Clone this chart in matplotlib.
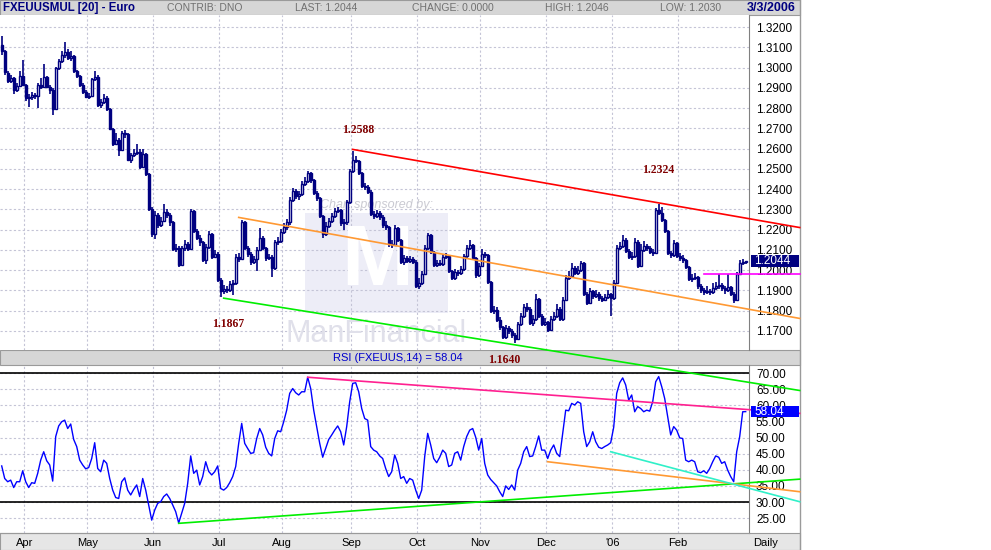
import numpy as np
import pandas as pd
import matplotlib
matplotlib.use('Agg')
import matplotlib.pyplot as plt
import matplotlib.transforms as mtransforms
from matplotlib.patches import Rectangle
from matplotlib.lines import Line2D
from matplotlib.ticker import FormatStrFormatter

plt.rcParams['font.family'] = 'Liberation Sans'

# daily EUR/USD bars, 22 Mar 2005 .. 3 Mar 2006
opens = [
    1.3110, 1.3080, 1.2975, 1.2935, 1.2950, 1.2890, 1.2910, 1.2960, 1.2915, 1.2850,
    1.2855, 1.2865, 1.2860, 1.2915, 1.2905, 1.2955, 1.2905, 1.2890, 1.2795, 1.3000,
    1.3035, 1.3060, 1.3075, 1.3050, 1.3055, 1.2985, 1.2960, 1.2915, 1.2880, 1.2855,
    1.2860, 1.2945, 1.2955, 1.2815, 1.2830, 1.2850, 1.2795, 1.2695, 1.2625, 1.2640,
    1.2595, 1.2675, 1.2670, 1.2545, 1.2570, 1.2580, 1.2585, 1.2510, 1.2575, 1.2475,
    1.2300, 1.2180, 1.2270, 1.2225, 1.2240, 1.2285, 1.2270, 1.2235, 1.2105, 1.2110,
    1.2025, 1.2110, 1.2130, 1.2105, 1.2290, 1.2195, 1.2160, 1.2140, 1.2050, 1.2115,
    1.2180, 1.2065, 1.2080, 1.1950, 1.1895, 1.1905, 1.1900, 1.1930, 1.1935, 1.2065,
    1.2055, 1.2235, 1.2110, 1.2080, 1.2040, 1.2055, 1.2100, 1.2160, 1.2110, 1.2060,
    1.2065, 1.2010, 1.2140, 1.2145, 1.2190, 1.2215, 1.2235, 1.2345, 1.2390, 1.2365,
    1.2375, 1.2425, 1.2440, 1.2480, 1.2445, 1.2380, 1.2355, 1.2265, 1.2180, 1.2220,
    1.2240, 1.2265, 1.2290, 1.2295, 1.2230, 1.2235, 1.2335, 1.2490, 1.2545, 1.2540,
    1.2480, 1.2415, 1.2410, 1.2385, 1.2275, 1.2265, 1.2280, 1.2260, 1.2225, 1.2215,
    1.2130, 1.2125, 1.2210, 1.2150, 1.2040, 1.2060, 1.2045, 1.2055, 1.2040, 1.1920,
    1.1935, 1.1980, 1.2110, 1.2175, 1.2090, 1.2025, 1.2035, 1.2030, 1.2065, 1.2070,
    1.1995, 1.1960, 1.1990, 1.1985, 1.2005, 1.2070, 1.2110, 1.2125, 1.2060, 1.1975,
    1.2020, 1.2080, 1.2075, 1.1940, 1.1800, 1.1805, 1.1755, 1.1720, 1.1670, 1.1715,
    1.1700, 1.1680, 1.1660, 1.1735, 1.1775, 1.1815, 1.1810, 1.1740, 1.1760, 1.1855,
    1.1775, 1.1735, 1.1745, 1.1705, 1.1760, 1.1775, 1.1810, 1.1760, 1.1850, 1.1960,
    1.1970, 1.2010, 1.1985, 1.2000, 1.2035, 1.1880, 1.1835, 1.1895, 1.1870, 1.1880,
    1.1860, 1.1850, 1.1865, 1.1880, 1.1860, 1.1935, 1.2110, 1.2120, 1.2150, 1.2095,
    1.2065, 1.2070, 1.2140, 1.2020, 1.2100, 1.2120, 1.2110, 1.2090, 1.2085, 1.2295,
    1.2280, 1.2245, 1.2195, 1.2085, 1.2075, 1.2135, 1.2070, 1.2060, 1.2050, 1.2015,
    1.1955, 1.1960, 1.1965, 1.1920, 1.1900, 1.1890, 1.1895, 1.1890, 1.1910, 1.1920,
    1.1925, 1.1910, 1.1900, 1.1915, 1.1880, 1.1850, 1.1980, 1.2035, 1.2040,
]
highs = [
    1.3156, 1.3085, 1.2985, 1.2965, 1.2955, 1.2925, 1.2985, 1.3040, 1.2920, 1.2870,
    1.2880, 1.2875, 1.2925, 1.2950, 1.3020, 1.2960, 1.2915, 1.2900, 1.3005, 1.3045,
    1.3080, 1.3125, 1.3090, 1.3080, 1.3060, 1.2990, 1.2965, 1.2925, 1.2890, 1.2875,
    1.2950, 1.2985, 1.2965, 1.2845, 1.2870, 1.2860, 1.2800, 1.2700, 1.2675, 1.2650,
    1.2685, 1.2690, 1.2675, 1.2580, 1.2600, 1.2625, 1.2600, 1.2600, 1.2580, 1.2480,
    1.2310, 1.2290, 1.2280, 1.2260, 1.2325, 1.2300, 1.2280, 1.2240, 1.2130, 1.2120,
    1.2120, 1.2150, 1.2140, 1.2300, 1.2295, 1.2205, 1.2175, 1.2145, 1.2130, 1.2195,
    1.2185, 1.2100, 1.2090, 1.1960, 1.1925, 1.1920, 1.1945, 1.1950, 1.2080, 1.2085,
    1.2245, 1.2240, 1.2120, 1.2090, 1.2070, 1.2115, 1.2210, 1.2170, 1.2115, 1.2080,
    1.2075, 1.2150, 1.2165, 1.2205, 1.2230, 1.2250, 1.2360, 1.2405, 1.2400, 1.2390,
    1.2440, 1.2460, 1.2490, 1.2485, 1.2450, 1.2390, 1.2360, 1.2270, 1.2235, 1.2255,
    1.2280, 1.2305, 1.2310, 1.2300, 1.2250, 1.2345, 1.2500, 1.2588, 1.2565, 1.2545,
    1.2485, 1.2430, 1.2420, 1.2395, 1.2290, 1.2295, 1.2290, 1.2270, 1.2240, 1.2220,
    1.2150, 1.2225, 1.2215, 1.2155, 1.2075, 1.2070, 1.2070, 1.2065, 1.2050, 1.1960,
    1.1995, 1.2125, 1.2185, 1.2180, 1.2095, 1.2050, 1.2050, 1.2080, 1.2085, 1.2075,
    1.2000, 1.2005, 1.2000, 1.2020, 1.2080, 1.2125, 1.2150, 1.2130, 1.2065, 1.2035,
    1.2105, 1.2090, 1.2080, 1.1945, 1.1820, 1.1815, 1.1770, 1.1725, 1.1730, 1.1725,
    1.1710, 1.1690, 1.1745, 1.1790, 1.1830, 1.1835, 1.1815, 1.1780, 1.1880, 1.1860,
    1.1785, 1.1765, 1.1750, 1.1775, 1.1795, 1.1830, 1.1815, 1.1865, 1.1975, 1.1995,
    1.2035, 1.2020, 1.2020, 1.2045, 1.2040, 1.1890, 1.1910, 1.1900, 1.1900, 1.1890,
    1.1870, 1.1880, 1.1900, 1.1885, 1.1950, 1.2125, 1.2140, 1.2175, 1.2160, 1.2105,
    1.2090, 1.2160, 1.2150, 1.2130, 1.2145, 1.2130, 1.2120, 1.2105, 1.2305, 1.2324,
    1.2310, 1.2250, 1.2200, 1.2095, 1.2150, 1.2140, 1.2085, 1.2075, 1.2055, 1.2020,
    1.1980, 1.1985, 1.1970, 1.1930, 1.1910, 1.1920, 1.1905, 1.1935, 1.1940, 1.1980,
    1.1935, 1.1920, 1.1980, 1.1920, 1.1890, 1.1990, 1.2050, 1.2055, 1.2046,
]
lows = [
    1.3060, 1.2965, 1.2925, 1.2925, 1.2870, 1.2880, 1.2905, 1.2910, 1.2835, 1.2805,
    1.2840, 1.2845, 1.2800, 1.2895, 1.2900, 1.2900, 1.2870, 1.2765, 1.2790, 1.2990,
    1.3025, 1.3050, 1.3040, 1.3035, 1.2975, 1.2950, 1.2905, 1.2870, 1.2850, 1.2845,
    1.2855, 1.2935, 1.2805, 1.2800, 1.2820, 1.2785, 1.2690, 1.2615, 1.2620, 1.2565,
    1.2590, 1.2650, 1.2540, 1.2530, 1.2560, 1.2570, 1.2500, 1.2505, 1.2465, 1.2290,
    1.2165, 1.2155, 1.2210, 1.2215, 1.2235, 1.2255, 1.2220, 1.2095, 1.2090, 1.2015,
    1.2020, 1.2095, 1.2095, 1.2100, 1.2185, 1.2150, 1.2120, 1.2040, 1.2030, 1.2105,
    1.2055, 1.2060, 1.1940, 1.1867, 1.1880, 1.1885, 1.1890, 1.1875, 1.1925, 1.2040,
    1.2050, 1.2100, 1.2065, 1.2025, 1.2030, 1.1995, 1.2095, 1.2100, 1.2045, 1.2050,
    1.1965, 1.2000, 1.2125, 1.2135, 1.2180, 1.2200, 1.2225, 1.2335, 1.2350, 1.2345,
    1.2365, 1.2415, 1.2430, 1.2430, 1.2370, 1.2340, 1.2255, 1.2160, 1.2170, 1.2210,
    1.2230, 1.2255, 1.2280, 1.2220, 1.2200, 1.2225, 1.2325, 1.2480, 1.2530, 1.2470,
    1.2405, 1.2395, 1.2375, 1.2265, 1.2250, 1.2255, 1.2245, 1.2210, 1.2200, 1.2115,
    1.2110, 1.2120, 1.2140, 1.2030, 1.2025, 1.2035, 1.2035, 1.2030, 1.1910, 1.1905,
    1.1925, 1.1975, 1.2100, 1.2080, 1.2015, 1.2015, 1.2020, 1.2020, 1.2055, 1.1985,
    1.1950, 1.1950, 1.1970, 1.1975, 1.1995, 1.2060, 1.2100, 1.2050, 1.1960, 1.1965,
    1.2015, 1.2060, 1.1930, 1.1790, 1.1785, 1.1745, 1.1705, 1.1660, 1.1660, 1.1685,
    1.1665, 1.1640, 1.1655, 1.1725, 1.1765, 1.1795, 1.1730, 1.1725, 1.1750, 1.1765,
    1.1725, 1.1725, 1.1695, 1.1700, 1.1750, 1.1765, 1.1750, 1.1750, 1.1845, 1.1950,
    1.1960, 1.1975, 1.1975, 1.1990, 1.1870, 1.1825, 1.1830, 1.1855, 1.1860, 1.1845,
    1.1840, 1.1845, 1.1855, 1.1775, 1.1850, 1.1930, 1.2100, 1.2110, 1.2085, 1.2055,
    1.2050, 1.2060, 1.2010, 1.2015, 1.2090, 1.2095, 1.2080, 1.2070, 1.2080, 1.2270,
    1.2235, 1.2185, 1.2075, 1.2060, 1.2065, 1.2060, 1.2045, 1.2035, 1.2005, 1.1945,
    1.1940, 1.1950, 1.1905, 1.1885, 1.1875, 1.1880, 1.1875, 1.1880, 1.1900, 1.1905,
    1.1895, 1.1880, 1.1890, 1.1870, 1.1835, 1.1845, 1.1975, 1.2025, 1.2030,
]
closes = [
    1.3080, 1.2980, 1.2935, 1.2950, 1.2890, 1.2910, 1.2960, 1.2915, 1.2850, 1.2855,
    1.2865, 1.2860, 1.2915, 1.2905, 1.2955, 1.2905, 1.2890, 1.2795, 1.3000, 1.3035,
    1.3060, 1.3075, 1.3050, 1.3055, 1.2985, 1.2960, 1.2915, 1.2880, 1.2855, 1.2860,
    1.2945, 1.2955, 1.2815, 1.2830, 1.2850, 1.2795, 1.2695, 1.2625, 1.2640, 1.2595,
    1.2675, 1.2670, 1.2545, 1.2570, 1.2580, 1.2585, 1.2510, 1.2575, 1.2475, 1.2300,
    1.2180, 1.2270, 1.2225, 1.2240, 1.2285, 1.2270, 1.2235, 1.2105, 1.2110, 1.2025,
    1.2110, 1.2130, 1.2105, 1.2290, 1.2195, 1.2160, 1.2140, 1.2050, 1.2115, 1.2180,
    1.2065, 1.2080, 1.1950, 1.1895, 1.1905, 1.1900, 1.1930, 1.1935, 1.2065, 1.2055,
    1.2235, 1.2110, 1.2080, 1.2040, 1.2055, 1.2100, 1.2160, 1.2110, 1.2060, 1.2065,
    1.2010, 1.2140, 1.2145, 1.2190, 1.2215, 1.2235, 1.2345, 1.2390, 1.2365, 1.2375,
    1.2425, 1.2440, 1.2480, 1.2445, 1.2380, 1.2355, 1.2265, 1.2180, 1.2220, 1.2240,
    1.2265, 1.2290, 1.2295, 1.2230, 1.2235, 1.2335, 1.2490, 1.2545, 1.2540, 1.2480,
    1.2415, 1.2410, 1.2385, 1.2275, 1.2265, 1.2280, 1.2260, 1.2225, 1.2215, 1.2130,
    1.2125, 1.2210, 1.2150, 1.2040, 1.2060, 1.2045, 1.2055, 1.2040, 1.1920, 1.1935,
    1.1980, 1.2110, 1.2175, 1.2090, 1.2025, 1.2035, 1.2030, 1.2065, 1.2070, 1.1995,
    1.1960, 1.1990, 1.1985, 1.2005, 1.2070, 1.2110, 1.2125, 1.2060, 1.1975, 1.2020,
    1.2080, 1.2075, 1.1940, 1.1800, 1.1805, 1.1755, 1.1720, 1.1670, 1.1715, 1.1700,
    1.1680, 1.1660, 1.1735, 1.1775, 1.1815, 1.1810, 1.1740, 1.1760, 1.1855, 1.1775,
    1.1735, 1.1745, 1.1705, 1.1760, 1.1775, 1.1810, 1.1760, 1.1850, 1.1960, 1.1970,
    1.2010, 1.1985, 1.2000, 1.2035, 1.1880, 1.1835, 1.1895, 1.1870, 1.1880, 1.1860,
    1.1850, 1.1865, 1.1880, 1.1860, 1.1935, 1.2110, 1.2120, 1.2150, 1.2095, 1.2065,
    1.2070, 1.2140, 1.2020, 1.2100, 1.2120, 1.2110, 1.2090, 1.2085, 1.2295, 1.2280,
    1.2245, 1.2195, 1.2085, 1.2075, 1.2135, 1.2070, 1.2060, 1.2050, 1.2015, 1.1955,
    1.1960, 1.1965, 1.1920, 1.1900, 1.1890, 1.1895, 1.1890, 1.1910, 1.1920, 1.1925,
    1.1910, 1.1900, 1.1915, 1.1880, 1.1850, 1.1980, 1.2035, 1.2040, 1.2044,
]
rsi = [
    41.2, 37.3, 36.3, 36.8, 34.5, 36.3, 36.3, 39.7, 36.3, 34.5,
    36.0, 35.8, 38.9, 43.0, 45.6, 42.8, 41.5, 36.5, 50.3, 53.6,
    54.9, 55.4, 52.8, 54.2, 49.4, 47.2, 43.0, 41.5, 40.3, 40.7,
    43.5, 48.4, 40.4, 39.4, 43.0, 42.0, 37.3, 33.7, 31.4, 31.1,
    36.3, 37.5, 33.7, 32.2, 33.9, 35.3, 31.7, 37.3, 33.7, 29.1,
    24.4, 27.5, 29.6, 30.1, 31.7, 32.5, 31.1, 29.1, 27.0, 23.5,
    26.5, 29.6, 35.8, 44.3, 38.9, 39.9, 35.3, 37.9, 42.5, 39.5,
    38.4, 39.4, 41.2, 34.2, 33.7, 34.5, 36.0, 37.9, 41.0, 48.2,
    54.4, 48.2, 46.6, 45.1, 45.3, 49.7, 52.8, 50.8, 47.0, 45.1,
    44.3, 49.7, 52.1, 51.8, 54.9, 58.5, 63.7, 65.2, 63.9, 63.2,
    64.2, 64.2, 68.7, 65.2, 58.5, 53.4, 48.2, 43.9, 46.6, 49.4,
    50.8, 52.3, 53.6, 51.8, 47.7, 53.4, 61.1, 66.8, 67.0, 64.2,
    59.0, 55.9, 55.4, 47.2, 46.1, 45.6, 44.3, 43.5, 40.4, 37.9,
    39.4, 44.6, 42.0, 37.3, 37.9, 35.8, 37.3, 36.8, 33.7, 31.1,
    33.7, 44.1, 51.3, 47.7, 43.5, 42.2, 43.9, 46.1, 45.1, 41.0,
    41.5, 45.1, 45.6, 43.0, 47.2, 50.3, 52.3, 52.8, 50.1, 46.1,
    49.7, 42.0, 38.4, 37.0, 36.0, 35.0, 33.2, 31.7, 35.0, 33.9,
    35.3, 33.7, 39.9, 42.0, 45.6, 47.2, 44.1, 44.3, 47.2, 50.5,
    46.1, 46.1, 43.5, 46.1, 47.7, 45.1, 44.1, 51.3, 58.5, 58.3,
    60.6, 60.1, 61.1, 60.6, 51.8, 47.2, 48.7, 51.8, 48.7, 47.0,
    46.6, 47.2, 47.7, 48.4, 53.2, 63.7, 67.0, 68.5, 66.3, 61.6,
    63.2, 58.0, 59.6, 59.0, 58.0, 58.5, 58.2, 61.1, 67.3, 68.9,
    65.8, 62.1, 56.5, 50.8, 53.4, 52.3, 49.9, 49.7, 43.0, 42.5,
    43.0, 42.5, 39.4, 39.1, 39.7, 38.9, 40.4, 42.5, 44.3, 43.9,
    42.0, 42.5, 39.9, 37.9, 36.3, 45.6, 50.3, 58.0, 58.04,
]

price_ticks = [1.17, 1.18, 1.19, 1.20, 1.21, 1.22, 1.23, 1.24,
               1.25, 1.26, 1.27, 1.28, 1.29, 1.30, 1.31, 1.32]
rsi_ticks = [25, 30, 35, 40, 45, 50, 55, 60, 65, 70]
rsi_levels = [70, 30]
month_labels = ['Apr', 'May', 'Jun', 'Jul', 'Aug', 'Sep', 'Oct', 'Nov', 'Dec', "'06", 'Feb']

# labelled turning points (bar index, price)
pivot_idx = [117, 219, 73, 171]
pivot_val = [1.2588, 1.2324, 1.1867, 1.1640]

# trend lines: (start bar, start value, end bar, end value)
price_lines = [
    (117, 1.2596, 266, 1.2210, '#ff0000'),
    (79, 1.2260, 266, 1.1761, '#ff9933'),
    (74, 1.1861, 266, 1.1405, '#00ee00'),
    (234, 1.1980, 266, 1.1980, '#ff00ff'),
]
rsi_lines = [
    (102, 68.7, 266, 57.5, '#ff2090'),
    (59, 23.4, 266, 37.1, '#00ee00'),
    (182, 42.5, 266, 33.2, '#ff9933'),
    (203, 45.6, 266, 30.1, '#30f0c8'),
]

dates = pd.bdate_range('2005-03-22', '2006-03-03')
idx = np.arange(len(closes))
month_pos = [i - 0.5 for i in range(1, len(dates)) if dates[i].month != dates[i - 1].month][:len(month_labels)]

W, H = 991, 550
navy = '#000080'
grid_kw = dict(color='#c4c4d6', lw=0.8, ls=(0, (2, 2)))


def box(x0, y0, x1, y1):
    return [x0 / W, 1 - y1 / H, (x1 - x0) / W, (y1 - y0) / H]


fig = plt.figure(figsize=(W / 100, H / 100), dpi=100)

# bands: title bar, RSI title bar, date bar (kept under the axes)
for y0, y1 in [(0, 15), (350, 365), (533, 550)]:
    fig.add_artist(Rectangle((0, 1 - y1 / H), 800 / W, (y1 - y0) / H, transform=fig.transFigure,
                             facecolor='#d6d6d6' if y0 < 500 else '#e6e6e6', edgecolor='#9a9a9a',
                             lw=0.8, zorder=-1))
fig.add_artist(Line2D([800 / W, 800 / W], [0, 1], transform=fig.transFigure, color='#9a9a9a', lw=1, zorder=-1))

ax_rsi = fig.add_axes(box(0, 365, 749, 533))
ax = fig.add_axes(box(0, 15, 749, 350), zorder=2)
ax_rsi.patch.set_alpha(0)

xlim = (-0.567, 249.1)

# ---- price panel
ax.set_xlim(*xlim)
ax.set_ylim(1.1605, 1.3260)
ax.set_xticks(month_pos)
ax.set_yticks(price_ticks)
ax.grid(True, **grid_kw)
ax.set_axisbelow(True)
ax.yaxis.tick_right()
ax.yaxis.set_major_formatter(FormatStrFormatter('%.4f'))
ax.tick_params(axis='y', length=0, pad=5, labelsize=8.5)
ax.tick_params(axis='x', length=0, labelbottom=False)
for s in ['top', 'left', 'bottom']:
    ax.spines[s].set_visible(False)
ax.spines['right'].set_color('#808080')

# sponsor watermark
ax.add_patch(Rectangle((0.4072, 0.110), 0.191, 0.299, transform=ax.transAxes,
                       facecolor='#ededf7', edgecolor='none', zorder=0.5))
ax.text(0.503, 0.26, 'M', transform=ax.transAxes, ha='center', va='center',
        fontsize=62, color='white', fontweight='bold', zorder=0.6)
ax.text(0.503, 0.433, 'Chart sponsored by:', transform=ax.transAxes, ha='center', va='center',
        fontsize=9, color='#cacad2', style='italic', zorder=0.6)
ax.text(0.502, 0.048, 'ManFinancial', transform=ax.transAxes, ha='center', va='center',
        fontsize=22, color='#e0e0ea', zorder=0.6)

o = np.array(opens)
c = np.array(closes)
up = c >= o
body_lo = np.minimum(o, c)
body_h = np.maximum(np.abs(c - o), 0.0003)
ax.vlines(idx, lows, highs, color=navy, lw=1.2, zorder=3)
ax.bar(idx[up], body_h[up], bottom=body_lo[up], width=0.75, facecolor='white',
       edgecolor=navy, lw=1.0, zorder=4)
ax.bar(idx[~up], body_h[~up], bottom=body_lo[~up], width=0.75, facecolor=navy,
       edgecolor=navy, lw=1.0, zorder=4)

for x0, y0, x1, y1, col in price_lines:
    ax.plot([x0, x1], [y0, y1], color=col, lw=1.2, clip_on=False, zorder=5)

offsets = [(6, 21), (0, 34), (7, -27), (-10, -17)]
for i, v, off in zip(pivot_idx, pivot_val, offsets):
    ax.annotate(f'{v:.4f}', xy=(i, v), xytext=off, textcoords='offset pixels',
                ha='center', va='center', fontsize=8.5, fontweight='bold',
                family='Liberation Serif', color='#800000', zorder=6, annotation_clip=False,
                bbox=dict(facecolor='white', edgecolor='none', pad=1.5) if off[1] < -20 and i > 150 else None)

tr = mtransforms.blended_transform_factory(ax.transAxes, ax.transData)
ax.add_patch(Rectangle((751 / 749, closes[-1] - 0.0030), 48 / 749, 0.0060, transform=tr,
                       facecolor=navy, edgecolor='none', clip_on=False, zorder=7))
ax.text(754 / 749, closes[-1], f'{closes[-1]:.4f}', transform=tr, color='white', fontsize=8.5,
        va='center', ha='left', zorder=8, clip_on=False)

# ---- RSI panel
ax_rsi.set_xlim(*xlim)
ax_rsi.set_ylim(20.4, 72.5)
ax_rsi.set_xticks(month_pos)
ax_rsi.set_xticklabels(month_labels)
ax_rsi.set_yticks(rsi_ticks)
ax_rsi.grid(True, **grid_kw)
ax_rsi.set_axisbelow(True)
ax_rsi.yaxis.tick_right()
ax_rsi.yaxis.set_major_formatter(FormatStrFormatter('%.2f'))
ax_rsi.tick_params(axis='y', length=0, pad=5, labelsize=8.5)
ax_rsi.tick_params(axis='x', length=0, pad=3.5, labelsize=8)
for s in ['top', 'left']:
    ax_rsi.spines[s].set_visible(False)
ax_rsi.spines['right'].set_color('#808080')
ax_rsi.spines['bottom'].set_color('#9a9a9a')

for lv in rsi_levels:
    ax_rsi.axhline(lv, color='black', lw=1.2, zorder=2)
ax_rsi.plot(idx, rsi, color='#0000ff', lw=1, zorder=3)
for x0, y0, x1, y1, col in rsi_lines:
    ax_rsi.plot([x0, x1], [y0, y1], color=col, lw=1.2, clip_on=False, zorder=4)

tr2 = mtransforms.blended_transform_factory(ax_rsi.transAxes, ax_rsi.transData)
ax_rsi.add_patch(Rectangle((751 / 749, rsi[-1] - 1.75), 48 / 749, 3.5, transform=tr2,
                           facecolor='#0000ff', edgecolor='none', clip_on=False, zorder=7))
ax_rsi.text(754 / 749, rsi[-1], f'{rsi[-1]:.2f}', transform=tr2, color='white', fontsize=8.5,
            va='center', ha='left', zorder=8, clip_on=False)

# ---- header texts
ty = 1 - 8 / H
fig.text(3 / W, ty, 'FXEUUSMUL [20] - Euro', fontsize=8.3, fontweight='bold', color=navy, va='center')
fig.text(167 / W, ty, 'CONTRIB: DNO', fontsize=7.5, color='#707070', va='center')
fig.text(295 / W, ty, f'LAST: {closes[-1]:.4f}', fontsize=7.5, color='#707070', va='center')
fig.text(412 / W, ty, 'CHANGE: 0.0000', fontsize=7.5, color='#707070', va='center')
fig.text(545 / W, ty, f'HIGH: {highs[-1]:.4f}', fontsize=7.5, color='#707070', va='center')
fig.text(660 / W, ty, f'LOW: {lows[-1]:.4f}', fontsize=7.5, color='#707070', va='center')
fig.text(796 / W, ty, '3/3/2006', fontsize=9, fontweight='bold', color=navy, va='center', ha='right')
fig.text(398 / W, 1 - 358 / H, f'RSI (FXEUUS,14) = {rsi[-1]:.2f}', fontsize=8, color='#0000cc',
         va='center', ha='center')
fig.text(766 / W, 1 - 543 / H, 'Daily', fontsize=8, va='center', ha='center')

fig.savefig('out.png', dpi=100)
